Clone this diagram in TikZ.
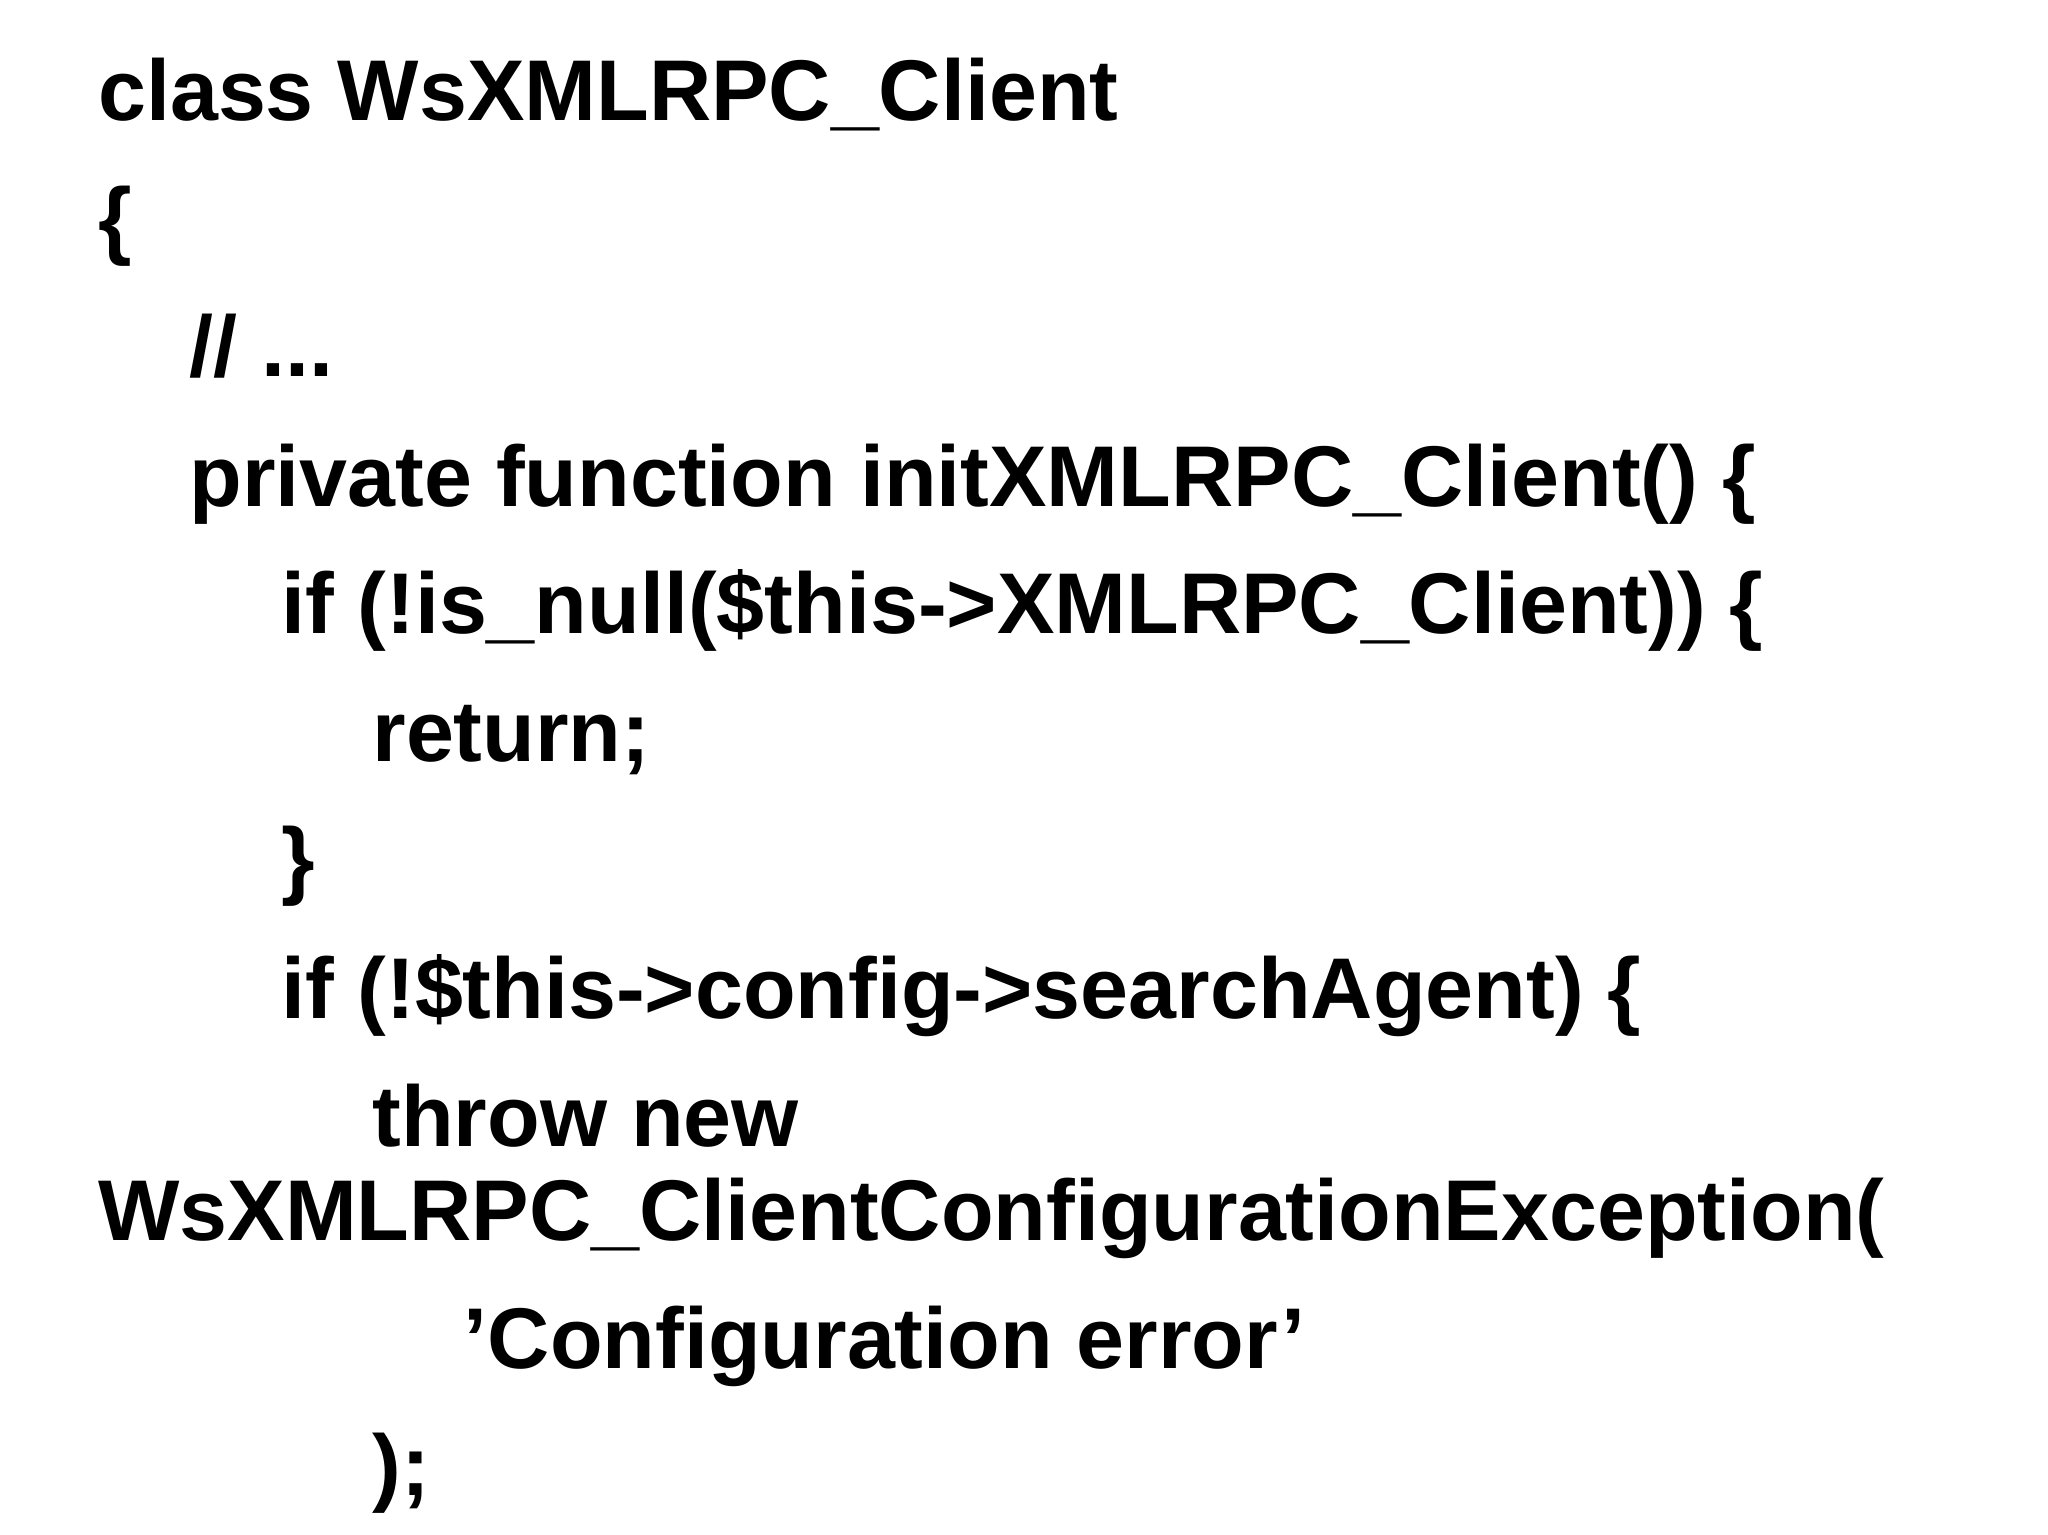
\documentclass[tikz,border=0pt]{standalone}
\usepackage{fontspec}
\setmainfont{Liberation Sans}
\begin{document}
\begin{tikzpicture}[x=1pt,y=-1pt,
  code/.style={anchor=base west,inner sep=0pt,font=\fontsize{66}{70}\selectfont\bfseries}]
\useasboundingbox (0,0) rectangle (1568,1175);
\node[code] (l1) at (75,92) {class WsXMLRPC\_Client};
\node[code] (l2) at (75,190) {\{};
\node[code] (l3) at (145,288) {// ...};
\node[code] (l4) at (145,388) {private function initXMLRPC\_Client() \{};
\node[code] (l5) at (215,485) {if (!is\_null(\$this->XMLRPC\_Client)) \{};
\node[code] (l6) at (285,583) {return;};
\node[code] (l7) at (215,680) {\}};
\node[code] (l8) at (215,780) {if (!\$this->config->searchAgent) \{};
\node[code] (l9) at (285,878) {throw new};
\node[code] (l10) at (75,950) {WsXMLRPC\_ClientConfigurationException(};
\node[code] (l11) at (355,1048) {'Configuration error'};
\node[code] (l12) at (285,1145) {);};
\end{tikzpicture}
\end{document}
